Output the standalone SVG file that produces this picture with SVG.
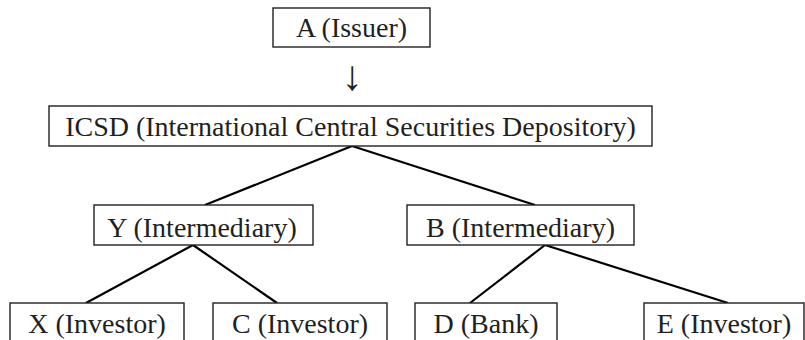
<svg xmlns="http://www.w3.org/2000/svg" width="805" height="340" viewBox="0 0 805 340">
<style>
.box{fill:#fff;stroke:#231f20;stroke-width:1.4}
.lbl{font-family:"Liberation Serif","Times New Roman",serif;font-size:28px;fill:#231f20;text-anchor:middle}
.arrow{font-family:"Liberation Serif","Times New Roman",serif;font-size:42px;fill:#231f20;text-anchor:middle}
.edge{stroke:#000;stroke-width:2.2;fill:none}
</style>
<rect width="805" height="340" fill="#fff"/>
<g id="connectors">
<text class="arrow" x="352" y="90">↓</text>
<line class="edge" x1="352" y1="146" x2="205" y2="205"/>
<line class="edge" x1="352" y1="146" x2="535" y2="205"/>
<line class="edge" x1="193" y1="245" x2="86" y2="303"/>
<line class="edge" x1="193" y1="245" x2="277" y2="303"/>
<line class="edge" x1="545" y1="245" x2="470" y2="303"/>
<line class="edge" x1="545" y1="245" x2="728" y2="303"/>
</g>
<g id="A">
<rect class="box" x="273" y="8" width="157" height="39"/>
<text class="lbl" x="351.5" y="37">A (Issuer)</text>
</g>
<g id="ICSD">
<rect class="box" x="49" y="106" width="603" height="40"/>
<text class="lbl" x="350.5" y="136">ICSD (International Central Securities Depository)</text>
</g>
<g id="Y">
<rect class="box" x="94" y="205" width="219" height="40"/>
<text class="lbl" x="202" y="236.5">Y (Intermediary)</text>
</g>
<g id="B">
<rect class="box" x="407" y="205" width="227" height="40"/>
<text class="lbl" x="520.5" y="236.5">B (Intermediary)</text>
</g>
<g id="X">
<rect class="box" x="10" y="303" width="174" height="40"/>
<text class="lbl" x="97" y="333">X (Investor)</text>
</g>
<g id="C">
<rect class="box" x="213" y="303" width="174" height="40"/>
<text class="lbl" x="300" y="333">C (Investor)</text>
</g>
<g id="D">
<rect class="box" x="415" y="303" width="142" height="40"/>
<text class="lbl" x="486" y="333">D (Bank)</text>
</g>
<g id="E">
<rect class="box" x="644" y="303" width="160" height="40"/>
<text class="lbl" x="724" y="333">E (Investor)</text>
</g>
</svg>
